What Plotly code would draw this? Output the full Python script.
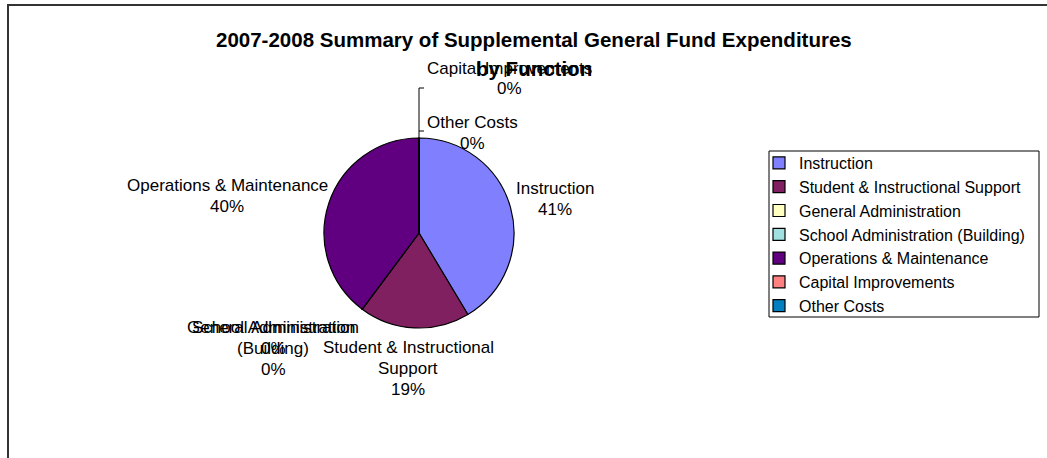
import plotly.graph_objects as go

W, H = 1047, 458

categories = ["Instruction", "Student & Instructional Support", "General Administration",
              "School Administration (Building)", "Operations & Maintenance",
              "Capital Improvements", "Other Costs"]
values = [41.4, 18.8, 0.0, 0.0, 39.8, 0.0, 0.0]
colors = ["#8080FF", "#802060", "#FFFFC0", "#A0E0E0", "#600080", "#FF8080", "#0080C0"]

title_lines = ["2007-2008 Summary of Supplemental General Fund Expenditures", "by Function"]

# label text pieces (label lines as drawn in the chart)
label_lines = {
    "Instruction": ["Instruction"],
    "Student & Instructional Support": ["Student & Instructional", "Support"],
    "General Administration": ["General Administration"],
    "School Administration (Building)": ["School Administration", "(Building)"],
    "Operations & Maintenance": ["Operations & Maintenance"],
    "Capital Improvements": ["Capital Improvements"],
    "Other Costs": ["Other Costs"],
}
# label anchor (pixel) positions: centre x, first-line centre y
label_pos = {
    "Instruction": (555, 188),
    "Student & Instructional Support": (408, 347),
    "General Administration": (273, 327),
    "School Administration (Building)": (273, 327),
    "Operations & Maintenance": (227, 185),
    "Capital Improvements": (509, 68),
    "Other Costs": (472, 122),
}

FONT = "Liberation Sans, Arial, sans-serif"

def px(x):
    return x / W

def py(y):
    return 1 - y / H

cx, cy, r = 419, 233, 95

fig = go.Figure()
fig.add_trace(go.Pie(
    labels=categories, values=values, sort=False, direction="clockwise", rotation=0,
    marker=dict(colors=colors, line=dict(color="black", width=1.2)),
    textinfo="none", hoverinfo="label+percent",
    domain=dict(x=[px(cx - r), px(cx + r)], y=[py(cy + r), py(cy - r)]),
))

total = sum(values)
annotations = []
LS = 21
for cat, v in zip(categories, values):
    lines = label_lines[cat] + [f"{round(100 * v / total):.0f}%"]
    x0, y0 = label_pos[cat]
    for i, t in enumerate(lines):
        annotations.append(dict(
            x=px(x0), y=py(y0 + i * LS), xref="paper", yref="paper",
            text=t, showarrow=False, xanchor="center", yanchor="middle",
            font=dict(family=FONT, size=17, color="black"),
        ))

# title (two lines)
for t, yy in zip(title_lines, [40, 68]):
    annotations.append(dict(x=px(534), y=py(yy), xref="paper", yref="paper", showarrow=False,
                            text=f"<b>{t}</b>", xanchor="center", yanchor="middle",
                            font=dict(family=FONT, size=20.5, color="black")))

shapes = [
    # chart frame
    dict(type="line", xref="paper", yref="paper", x0=px(7), x1=px(1050), y0=py(5), y1=py(5),
         line=dict(color="#333333", width=2)),
    dict(type="line", xref="paper", yref="paper", x0=px(8), x1=px(8), y0=py(5), y1=py(460),
         line=dict(color="#333333", width=2)),
    # leader lines
    dict(type="line", xref="paper", yref="paper", x0=px(419), x1=px(419), y0=py(88), y1=py(138),
         line=dict(color="black", width=1)),
    dict(type="line", xref="paper", yref="paper", x0=px(419), x1=px(424), y0=py(88), y1=py(88),
         line=dict(color="black", width=1)),
    dict(type="line", xref="paper", yref="paper", x0=px(419), x1=px(424), y0=py(131), y1=py(131),
         line=dict(color="black", width=1)),
    # legend box
    dict(type="rect", xref="paper", yref="paper", x0=px(769), x1=px(1039), y0=py(151), y1=py(317),
         line=dict(color="black", width=1)),
]

fig.update_layout(
    width=W, height=H, margin=dict(l=0, r=0, t=0, b=0),
    paper_bgcolor="white", plot_bgcolor="white",
    showlegend=True,
    legend=dict(x=px(759), y=py(146), xanchor="left", yanchor="top",
                font=dict(family=FONT, size=16, color="black"),
                bgcolor="rgba(0,0,0,0)", borderwidth=0, traceorder="normal"),
    annotations=annotations, shapes=shapes,
)

fig.write_html("out.html", config={"displayModeBar": False},
               post_script="document.body.style.margin='0px';")
